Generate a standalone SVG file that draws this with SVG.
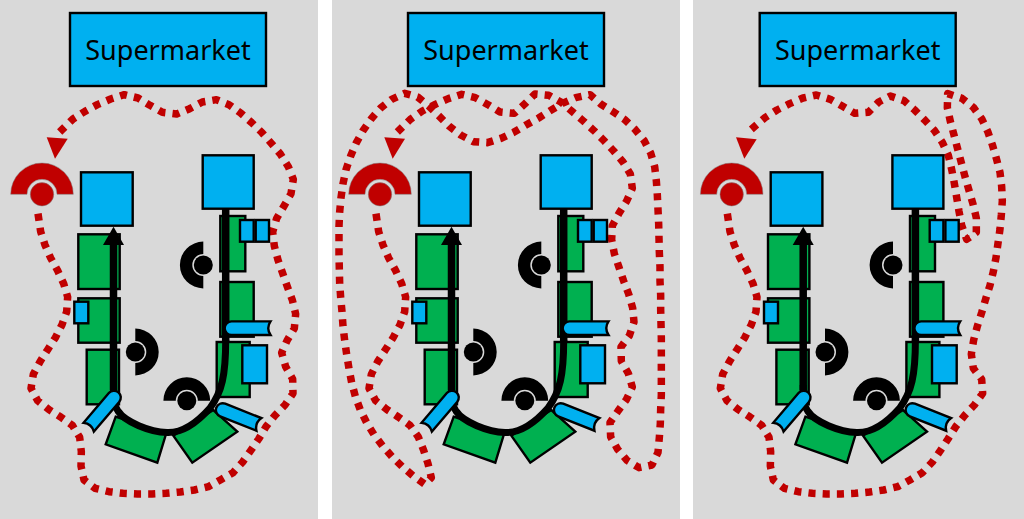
<svg xmlns="http://www.w3.org/2000/svg" width="1024" height="519" viewBox="0 0 1024 519">
<style>
.bg{fill:#d9d9d9}
.b{fill:#00b0f0;stroke:#000;stroke-width:2.400}
.g{fill:#00b050;stroke:#000;stroke-width:2.400}
.t{font-family:"Noto Sans","Open Sans","Liberation Sans",sans-serif;font-size:27px;fill:#000;text-anchor:middle}
.flow{fill:none;stroke:#000;stroke-width:7}
.stem{fill:none;stroke:#000;stroke-width:7.500}
.red{fill:none;stroke:#c00000;stroke-width:22.500;stroke-dasharray:.5 .5;stroke-linejoin:round}
</style>
<defs>
<g id="flowline">
<path class="flow" d="M225.700 340C225.700 375 222 392 210 408C195 425 180 433 167 432.500C150 432 125 422 118 411C113.500 405 113.500 400 113.500 385"/>
<path class="stem" d="M225.700 208V342M113.500 390V243"/>
<path d="M113.500 226.700L124 245H103Z" fill="#000"/>
</g>
<path id="tube39" class="b" d="M0 -6.800H39Q34.500 0 39 6.800H0A6.800 6.800 0 0 1 0 -6.800Z"/>
<g id="op"><path d="M-23.400 0A23.400 23.400 0 0 1 23.400 0H11A11 11 0 0 0 -11 0Z" fill="#000"/><circle r="9.500" fill="#000"/></g>
<g id="opred"><path d="M-31.300 0A31.300 31.300 0 0 1 31.300 0H15A15 15 0 0 0 -15 0Z" fill="#c00000" stroke="#7f7f7f" stroke-width=".5"/><circle r="11.700" fill="#c00000" stroke="#7f7f7f" stroke-width=".5"/></g>
</defs>

<rect class="bg" x="0" y="0" width="318" height="519"/>
<rect class="bg" x="332" y="0" width="348" height="519"/>
<rect class="bg" x="693" y="0" width="331" height="519"/>

<g id="panel1">
<g id="p1-supermarket"><rect class="b" x="70" y="13" width="196" height="73"/><text class="t" x="168" y="60">Supermarket</text></g>
<g id="p1-green-1"><rect class="g" x="78.300" y="234.300" width="41.400" height="54.700"/></g>
<g id="p1-green-2"><rect class="g" x="78.300" y="298.300" width="41.400" height="44.400"/></g>
<g id="p1-green-3"><rect class="g" x="86.700" y="349.700" width="32.300" height="54.600"/></g>
<g id="p1-green-4"><rect class="g" x="220.300" y="216" width="25" height="55.300"/></g>
<g id="p1-green-5"><rect class="g" x="220.300" y="282" width="33.400" height="54.700"/></g>
<g id="p1-green-6"><rect class="g" x="216.700" y="342" width="33" height="55"/></g>
<g id="p1-green-7"><polygon class="g" points="115.700,416.700 166,434 157.300,462.700 105.700,444.300"/></g>
<g id="p1-green-8"><polygon class="g" points="173.300,435.700 213.300,410 237.300,431.700 192.300,462.700"/></g>
<g id="p1-connectors">
<use href="#flowline"/>
<polyline class="red" pathLength="75.500" transform="translate(0,80) scale(.33333)" points="114,401 122,455 135,495 152,534 173,572 191,611 203,651 200,695 186,734 166,773 143,809 120,845 100,883 93,925 113,962 147,989 182,1011 217,1036 239,1072 244,1115 243,1158 252,1200 285,1225 327,1235 369,1240 412,1242 456,1242 498,1240 541,1236 583,1230 625,1220 661,1200 699,1178 728,1146 752,1112 776,1077 798,1040 825,1006 855,975 879,940 878,897 857,860 845,818 861,782 883,745 887,702 877,660 862,620 848,580 834,540 823,498 818,456 830,415 852,378 873,341 880,298 865,260 841,222 814,190 786,158 755,128 723,100 687,74 649,59 607,66 569,86 530,102 487,97 450,76 414,54 373,44 332,57 292,74 255,94 219,117 179,156"/>
<polygon points="46.700,137.300 67.700,138.700 55,158.700" fill="#c00000"/>
</g>
<g id="p1-station-a"><rect class="b" x="81" y="172.300" width="51.700" height="53.400"/></g>
<g id="p1-station-b"><rect class="b" x="202.700" y="155.300" width="51" height="53.400"/></g>
<g id="p1-buffer-1"><rect class="b" x="240" y="220" width="13.700" height="21.700"/></g>
<g id="p1-buffer-2"><rect class="b" x="255.700" y="220" width="13.300" height="21.700"/></g>
<g id="p1-buffer-3"><rect class="b" x="74.300" y="301.700" width="14" height="21.600"/></g>
<g id="p1-buffer-4"><rect class="b" x="242.300" y="345.300" width="24.700" height="38"/></g>
<g id="p1-tube-1"><use href="#tube39" transform="translate(231.500,328.200)"/></g>
<g id="p1-tube-2"><use href="#tube39" transform="translate(114,397.500) rotate(130.400)"/></g>
<g id="p1-tube-3"><use href="#tube39" transform="translate(222.700,410) rotate(21.700)"/></g>
<g id="p1-op-1"><use href="#op" transform="translate(203.300,265) rotate(-90)"/></g>
<g id="p1-op-2"><use href="#op" transform="translate(135.300,352) rotate(90)"/></g>
<g id="p1-op-3"><use href="#op" transform="translate(186.800,400.700)"/></g>
<g id="p1-op-red"><use href="#opred" transform="translate(42,194.300)"/></g>
</g>

<g id="panel2" transform="translate(338,0)">
<g id="p2-supermarket"><rect class="b" x="70" y="13" width="196" height="73"/><text class="t" x="168" y="60">Supermarket</text></g>
<g id="p2-green-1"><rect class="g" x="78.300" y="234.300" width="41.400" height="54.700"/></g>
<g id="p2-green-2"><rect class="g" x="78.300" y="298.300" width="41.400" height="44.400"/></g>
<g id="p2-green-3"><rect class="g" x="86.700" y="349.700" width="32.300" height="54.600"/></g>
<g id="p2-green-4"><rect class="g" x="220.300" y="216" width="25" height="55.300"/></g>
<g id="p2-green-5"><rect class="g" x="220.300" y="282" width="33.400" height="54.700"/></g>
<g id="p2-green-6"><rect class="g" x="216.700" y="342" width="33" height="55"/></g>
<g id="p2-green-7"><polygon class="g" points="115.700,416.700 166,434 157.300,462.700 105.700,444.300"/></g>
<g id="p2-green-8"><polygon class="g" points="173.300,435.700 213.300,410 237.300,431.700 192.300,462.700"/></g>
<g id="p2-connectors">
<use href="#flowline"/>
<polyline class="red" pathLength="140.500" transform="translate(-8,80) scale(.33333)" points="138,401 146,455 159,495 176,534 197,572 215,611 227,651 224,695 210,734 190,772 167,808 143,845 124,883 117,925 137,962 170,988 205,1011 240,1036 265,1071 281,1111 294,1151 304,1193 285,1213 250,1188 218,1161 187,1131 158,1098 132,1064 110,1028 91,990 76,949 65,908 57,866 50,823 44,781 39,738 36,695 32,652 29,610 28,568 27,525 27,482 27,439 29,396 33,353 39,311 48,269 62,228 78,190 99,152 124,116 152,84 185,58 224,40 263,51 296,78 327,108 358,139 392,165 430,185 472,188 513,175 551,157 588,135 626,114 661,92 697,70 737,53 780,44 812,72 849,95 883,118 915,148 942,181 962,219 974,260 979,302 982,345 984,388 986,431 987,474 988,517 990,560 990,603 992,645 992,688 993,730 994,773 994,816 994,859 994,902 994,945 992,987 991,1030 988,1073 984,1117 966,1155 927,1163 891,1141 863,1108 842,1071 840,1028 864,993 889,959 907,921 895,880 874,843 873,801 898,767 912,726 908,684 896,642 881,603 867,562 853,521 845,479 847,437 867,400 890,363 907,325 901,282 879,246 851,213 822,182 792,152 760,123 727,95 694,67 656,46 615,42 584,72 553,100 510,96 474,74 436,53 395,43 355,56 316,73 277,93 241,118 202,156"/>
<polygon points="46.300,137.300 67,138.700 54.700,158.700" fill="#c00000"/>
</g>
<g id="p2-station-a"><rect class="b" x="81" y="172.300" width="51.700" height="53.400"/></g>
<g id="p2-station-b"><rect class="b" x="202.700" y="155.300" width="51" height="53.400"/></g>
<g id="p2-buffer-1"><rect class="b" x="240" y="220" width="13.700" height="21.700"/></g>
<g id="p2-buffer-2"><rect class="b" x="255.700" y="220" width="13.300" height="21.700"/></g>
<g id="p2-buffer-3"><rect class="b" x="74.300" y="301.700" width="14" height="21.600"/></g>
<g id="p2-buffer-4"><rect class="b" x="242.300" y="345.300" width="24.700" height="38"/></g>
<g id="p2-tube-1"><use href="#tube39" transform="translate(231.500,328.200)"/></g>
<g id="p2-tube-2"><use href="#tube39" transform="translate(114,397.500) rotate(130.400)"/></g>
<g id="p2-tube-3"><use href="#tube39" transform="translate(222.700,410) rotate(21.700)"/></g>
<g id="p2-op-1"><use href="#op" transform="translate(203.300,265) rotate(-90)"/></g>
<g id="p2-op-2"><use href="#op" transform="translate(135.300,352) rotate(90)"/></g>
<g id="p2-op-3"><use href="#op" transform="translate(186.800,400.700)"/></g>
<g id="p2-op-red"><use href="#opred" transform="translate(42,194.300)"/></g>
</g>

<g id="panel3" transform="translate(689.700,0)">
<g id="p3-supermarket"><rect class="b" x="70" y="13" width="196" height="73"/><text class="t" x="168" y="60">Supermarket</text></g>
<g id="p3-green-1"><rect class="g" x="78.300" y="234.300" width="41.400" height="54.700"/></g>
<g id="p3-green-2"><rect class="g" x="78.300" y="298.300" width="41.400" height="44.400"/></g>
<g id="p3-green-3"><rect class="g" x="86.700" y="349.700" width="32.300" height="54.600"/></g>
<g id="p3-green-4"><rect class="g" x="220.300" y="216" width="25" height="55.300"/></g>
<g id="p3-green-5"><rect class="g" x="220.300" y="282" width="33.400" height="54.700"/></g>
<g id="p3-green-6"><rect class="g" x="216.700" y="342" width="33" height="55"/></g>
<g id="p3-green-7"><polygon class="g" points="115.700,416.700 166,434 157.300,462.700 105.700,444.300"/></g>
<g id="p3-green-8"><polygon class="g" points="173.300,435.700 213.300,410 237.300,431.700 192.300,462.700"/></g>
<g id="p3-connectors">
<use href="#flowline"/>
<polyline class="red" pathLength="96.500" transform="translate(.3,80) scale(.33333)" points="112,401 120,455 133,495 150,534 171,572 189,611 201,651 198,695 184,734 164,773 141,809 118,845 98,883 91,925 111,962 145,989 180,1011 215,1036 237,1072 242,1115 241,1158 250,1200 283,1225 325,1235 367,1240 410,1242 453,1242 496,1240 539,1236 581,1230 623,1220 660,1200 697,1178 727,1146 751,1112 774,1077 797,1040 824,1006 853,975 878,940 875,898 850,865 844,822 851,780 862,739 875,698 887,657 900,616 910,575 918,533 924,490 930,447 934,405 937,362 935,319 930,277 919,235 907,194 893,154 875,116 850,82 816,55 773,41 772,83 781,124 792,165 803,207 814,248 825,290 837,331 849,372 859,414 859,457 830,478 815,436 807,394 800,352 793,310 785,268 775,226 757,187 733,151 704,120 674,90 642,62 601,48 566,66 535,97 494,100 458,79 421,58 379,45 339,54 299,71 261,90 225,113 184,148"/>
<polygon points="46.300,137.300 67,139.300 54.600,158.700" fill="#c00000"/>
</g>
<g id="p3-station-a"><rect class="b" x="81" y="172.300" width="51.700" height="53.400"/></g>
<g id="p3-station-b"><rect class="b" x="202.700" y="155.300" width="51" height="53.400"/></g>
<g id="p3-buffer-1"><rect class="b" x="240" y="220" width="13.700" height="21.700"/></g>
<g id="p3-buffer-2"><rect class="b" x="255.700" y="220" width="13.300" height="21.700"/></g>
<g id="p3-buffer-3"><rect class="b" x="74.300" y="301.700" width="14" height="21.600"/></g>
<g id="p3-buffer-4"><rect class="b" x="242.300" y="345.300" width="24.700" height="38"/></g>
<g id="p3-tube-1"><use href="#tube39" transform="translate(231.500,328.200)"/></g>
<g id="p3-tube-2"><use href="#tube39" transform="translate(114,397.500) rotate(130.400)"/></g>
<g id="p3-tube-3"><use href="#tube39" transform="translate(222.700,410) rotate(21.700)"/></g>
<g id="p3-op-1"><use href="#op" transform="translate(203.300,265) rotate(-90)"/></g>
<g id="p3-op-2"><use href="#op" transform="translate(135.300,352) rotate(90)"/></g>
<g id="p3-op-3"><use href="#op" transform="translate(186.800,400.700)"/></g>
<g id="p3-op-red"><use href="#opred" transform="translate(42,194.300)"/></g>
</g>
</svg>
